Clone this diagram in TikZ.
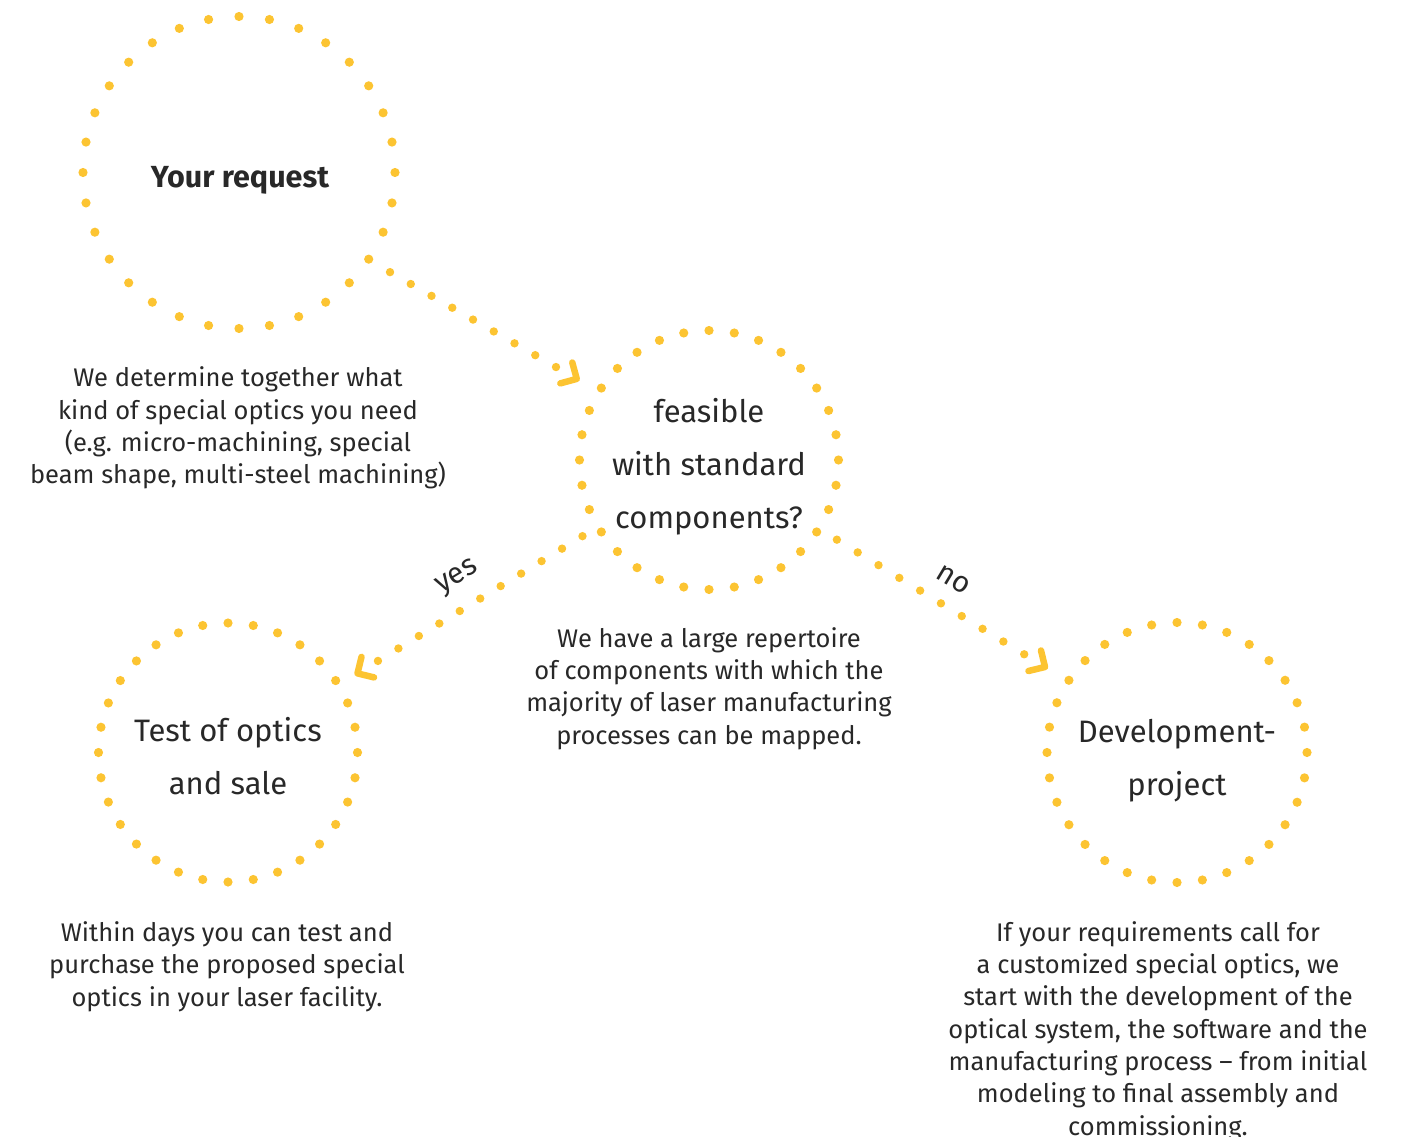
\documentclass[tikz,border=0pt]{standalone}
\usepackage{fontspec}
\setmainfont{Fira Sans}
\usetikzlibrary{calc}
\definecolor{dotyellow}{RGB}{252,196,50}
\definecolor{txt}{RGB}{40,40,40}
\begin{document}
\begin{tikzpicture}[x=1pt,y=-1pt,
  ring/.style={circle,inner sep=0pt,outer sep=0pt,minimum size=#1},
  ringdot/.style={fill=dotyellow},
  conndot/.style={fill=dotyellow},
  chev/.style={draw=dotyellow,line width=6.5pt,line cap=round,line join=round},
  desc/.style={align=center,text=txt,inner sep=0pt,font=\fontsize{25.5}{32.3}\selectfont},
  intext/.style={align=center,text=txt,inner sep=0pt,font=\fontsize{31}{53}\selectfont},
  edgelabel/.style={text=txt,inner sep=0pt,font=\fontsize{29.5}{32}\selectfont}]
\useasboundingbox (0,0) rectangle (1417,1137);

% circles
\node[ring=312] (c1) at (239,172.5) {};
\node[ring=259] (c2) at (709,460) {};
\node[ring=259] (c3) at (228,752.5) {};
\node[ring=260] (c4) at (1177,752.5) {};

\foreach \k in {0,...,31}{
  \fill[ringdot] (c1.center) ++(90+\k*11.25:156) circle (4.6);
  \fill[ringdot] (c2.center) ++(90+\k*11.25:129.5) circle (4.6);
  \fill[ringdot] (c3.center) ++(90+\k*11.25:129.5) circle (4.6);
  \fill[ringdot] (c4.center) ++(90+\k*11.25:130) circle (4.6);
}

% arrow tips
\coordinate (t1) at (576.75,378.9);
\coordinate (t2) at (357.5,673.4);
\coordinate (t3) at (1045,667);

% connector 1: request -> feasible
\foreach \k in {1,...,9}
  \fill[conndot] ($(t1)!{\k*23.9pt}!(c1.-34.1)$) circle (4.2);
\draw[chev] ($(t1)!17pt!45:(c1.-34.1)$) -- (t1) -- ($(t1)!17pt!-45:(c1.-34.1)$);

% connector 2: feasible -> test (yes)
\foreach \k in {1,...,11}
  \fill[conndot] ($(t2)!{\k*23.96pt}!(c2.211.5)$) circle (4.2);
\draw[chev] ($(t2)!17pt!45:(c2.211.5)$) -- (t2) -- ($(t2)!17pt!-45:(c2.211.5)$);

% connector 3: feasible -> development (no)
\foreach \k in {1,...,10}
  \fill[conndot] ($(t3)!{\k*24.4pt}!(c2.-32.8)$) circle (4.2);
\draw[chev] ($(t3)!17pt!45:(c2.-32.8)$) -- (t3) -- ($(t3)!17pt!-45:(c2.-32.8)$);

\node[edgelabel,rotate=31] (yes) at (458,578) {yes};
\node[edgelabel,rotate=-31] (no) at (953,580) {no};

% texts in circles
\node[text=txt,inner sep=0pt,font=\fontsize{30.5}{36}\selectfont\bfseries] (l1) at (240,180) {Your request};
\node[intext] (l2) at (709,467) {feasible\\with standard\\components?};
\node[intext] (l3) at (228,756) {Test of optics\\and sale};
\node[intext] (l4) at (1177,761) {Development-\\project};

% descriptions
\node[desc] (d1) at (238,428) {We determine together what\\kind of special optics you need\\(e.g. micro-machining, special\\beam shape, multi-steel machining)};
\node[desc] (d2) at (709,688.5) {We have a large repertoire\\of components with which the\\majority of laser manufacturing\\processes can be mapped.};
\node[desc] (d3) at (227,966.5) {Within days you can test and\\purchase the proposed special\\optics in your laser facility.};
\node[desc] (d4) at (1158,1031) {If your requirements call for\\a customized special optics, we\\start with the development of the\\optical system, the software and the\\manufacturing process -- from initial\\modeling to final assembly and\\commissioning.};
\end{tikzpicture}
\end{document}
